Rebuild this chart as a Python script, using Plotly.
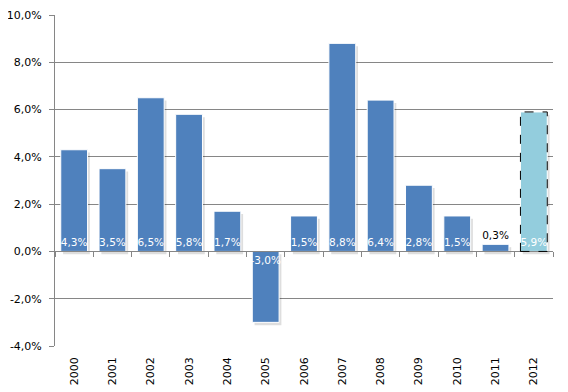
import plotly.graph_objects as go

years = ["2000", "2001", "2002", "2003", "2004", "2005", "2006",
         "2007", "2008", "2009", "2010", "2011", "2012"]
growth = [4.3, 3.5, 6.5, 5.8, 1.7, -3.0, 1.5, 8.8, 6.4, 2.8, 1.5, 0.3, 5.9]
labels = ["4,3%", "3,5%", "6,5%", "5,8%", "1,7%", "-3,0%", "1,5%",
          "8,8%", "6,4%", "2,8%", "1,5%", "0,3%", "5,9%"]
y_tickvals = [-4, -2, 0, 2, 4, 6, 8, 10]
y_ticktext = ["-4,0%", "-2,0%", "0,0%", "2,0%", "4,0%", "6,0%", "8,0%", "10,0%"]

n = len(years)
forecast_idx = n - 1
BLUE = "#4F81BD"
LIGHT = "#93CDDD"
FONT = "DejaVu Sans"
bar_w = 0.7

colors = [LIGHT if i == forecast_idx else BLUE for i in range(n)]
text_pos = ["outside" if abs(v) < 0.8 else "inside" for v in growth]
text_col = ["black" if abs(v) < 0.8 else "white" for v in growth]

fig = go.Figure()

# soft shadow
fig.add_trace(go.Bar(
    x=list(range(n)), y=growth, base=[-0.12] * n, width=bar_w, offset=-bar_w / 2 + 0.06,
    marker=dict(color="rgba(0,0,0,0.13)", line=dict(width=0)),
    hoverinfo="skip", showlegend=False, xaxis="x", yaxis="y",
))

fig.add_trace(go.Bar(
    x=list(range(n)), y=growth, width=bar_w,
    marker=dict(color=colors, line=dict(color="white", width=1)),
    text=labels, textposition=text_pos, insidetextanchor="start", textangle=0,
    textfont=dict(family=FONT, size=10.5, color=text_col),
    outsidetextfont=dict(family=FONT, size=10.5, color="black"),
    cliponaxis=False, constraintext="none",
    showlegend=False,
))

# dashed outline for the forecast bar
v = growth[forecast_idx]
fig.add_shape(type="rect", xref="x", yref="y",
              x0=forecast_idx - bar_w / 2, x1=forecast_idx + bar_w / 2,
              y0=0, y1=v, line=dict(color="black", width=1, dash="dash"))

# category axis at y=0 with ticks on boundaries
fig.add_trace(go.Scatter(x=years, y=[None] * n, xaxis="x2", yaxis="y",
                         showlegend=False, hoverinfo="skip"))

ymin, ymax = -4, 10
fig.update_layout(
    width=560, height=384,
    margin=dict(l=47, r=15, t=7, b=46),
    paper_bgcolor="white", plot_bgcolor="white",
    barmode="overlay", bargap=0.3,
    font=dict(family=FONT, size=11, color="black"),
    xaxis=dict(
        range=[-0.5, n - 0.5], tickmode="array", tickvals=list(range(n)), ticktext=years,
        tickangle=-90, showgrid=False, showline=False, zeroline=False, ticks="",
        ticklabelstandoff=8, automargin=False,
        tickfont=dict(family=FONT, size=11, color="black"),
    ),
    xaxis2=dict(
        type="category", overlaying="x", anchor="free", automargin=False,
        position=(0 - ymin) / (ymax - ymin), range=[-0.5, n - 0.5],
        showline=True, linecolor="#868686", linewidth=1,
        ticks="outside", ticklen=5, tickcolor="#868686", tickson="boundaries",
        showticklabels=False, showgrid=False, zeroline=False,
    ),
    yaxis=dict(
        range=[ymin, ymax], tickmode="array", tickvals=y_tickvals, ticktext=y_ticktext,
        showgrid=True, gridcolor="#868686", gridwidth=1, zeroline=False,
        showline=True, linecolor="#868686", linewidth=1, automargin=False,
        ticks="outside", ticklen=5, tickcolor="#868686", ticklabelstandoff=5,
        tickfont=dict(family=FONT, size=11, color="black"),
    ),
)

fig.write_html("out.html")
